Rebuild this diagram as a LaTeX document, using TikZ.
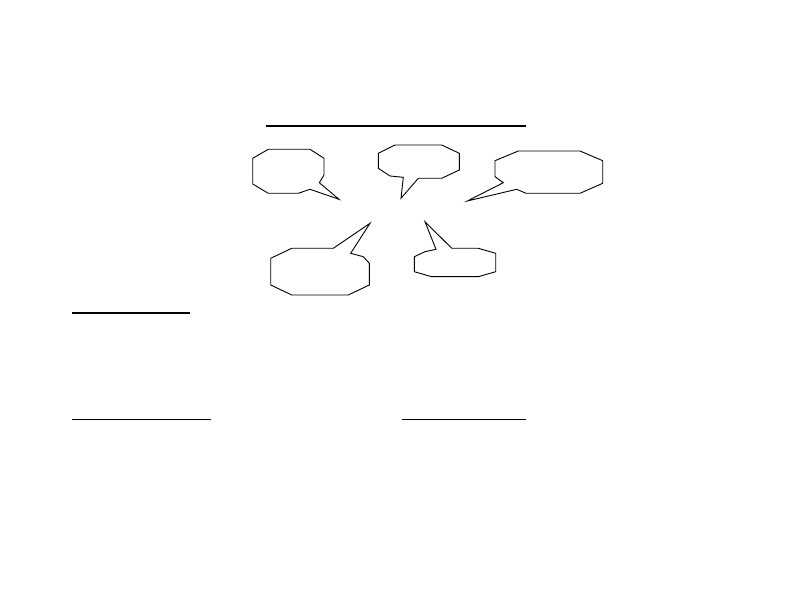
\documentclass[tikz,border=0pt]{standalone}
\begin{document}
\begin{tikzpicture}[x=1pt,y=-1pt,
  callout/.style={draw=black,line width=0.9pt,line join=miter,fill=white},
  rule/.style={draw=black,line width=2pt}]
\useasboundingbox (0,0) rectangle (792,612);
% rules
\draw[rule] (266,126) -- (526,126);
\draw[rule] (72,312.5) -- (190,312.5);
\draw[draw=black,line width=1.5pt] (72,419.5) -- (211,419.5);
\draw[draw=black,line width=1.5pt] (402,419.5) -- (526,419.5);
% callout 1
\draw[callout] (252.7,158.3) -- (268.3,149.3) -- (310,149.3) -- (324,158.3) -- (324,175) -- (319.3,182.7) -- (339,199.3) -- (310,189.3) -- (298.3,193.3) -- (268.3,193.3) -- (252.7,184) -- cycle;
% callout 2
\draw[callout] (378.3,153.3) -- (395,145) -- (441.7,145) -- (459.3,153.3) -- (459.3,170) -- (441.7,178.3) -- (418.3,178.3) -- (401,198.3) -- (403.3,177.3) -- (390,176) -- (378.3,168.3) -- cycle;
% callout 3
\draw[callout] (495,160.7) -- (518.3,151) -- (580,151) -- (602.7,160.7) -- (602.7,183.3) -- (580,193.3) -- (526,193.3) -- (516.7,189.3) -- (467.3,201) -- (503.3,182.7) -- (495,176.7) -- cycle;
% callout 4
\draw[callout] (270.7,258.3) -- (291.7,248.3) -- (333.3,248.3) -- (370,223.3) -- (350.7,253.3) -- (363.3,256.7) -- (369.3,263.3) -- (369.3,285) -- (348.3,295) -- (291.7,295) -- (270.7,285) -- cycle;
% callout 5
\draw[callout] (414.3,256.7) -- (425,251.7) -- (436,249.3) -- (425,221.7) -- (451.7,248.3) -- (478.3,248.3) -- (495.7,253.3) -- (495.7,271.7) -- (478.3,276.7) -- (431.7,276.7) -- (414.3,271.7) -- cycle;
\end{tikzpicture}
\end{document}
